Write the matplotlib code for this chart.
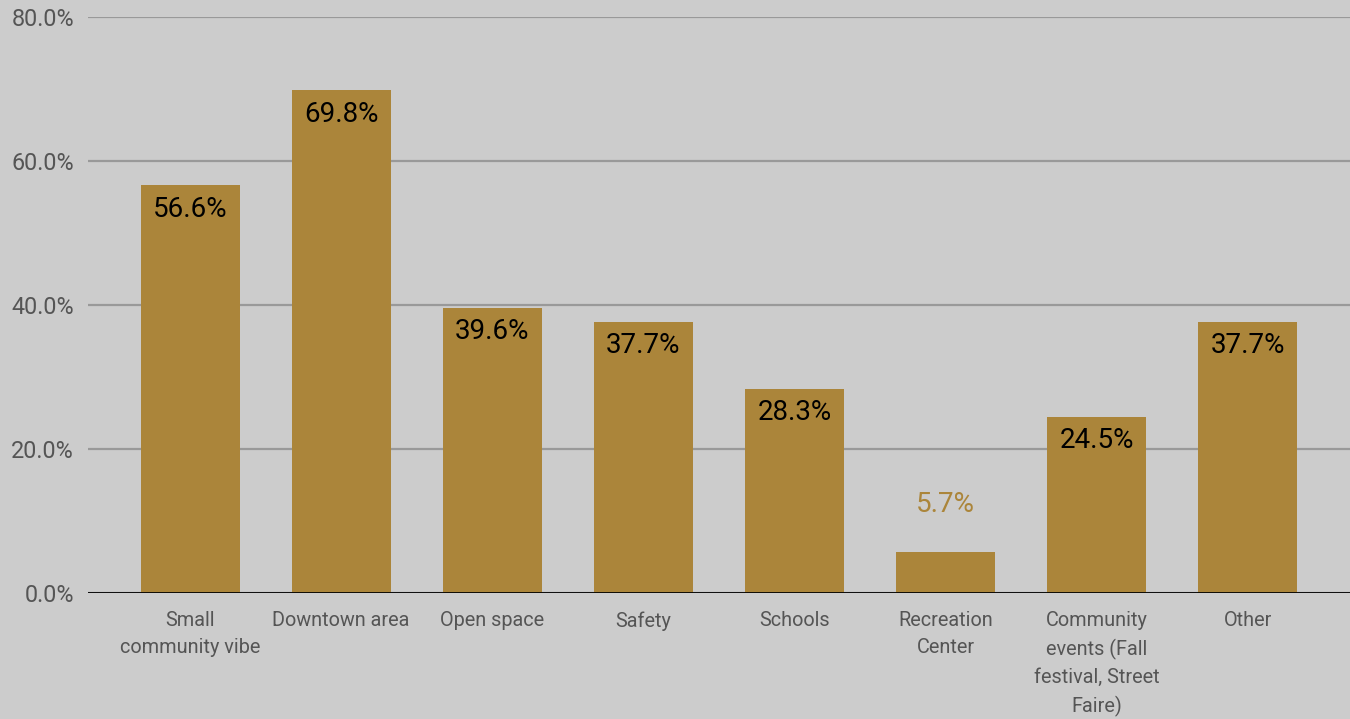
import matplotlib
matplotlib.use('Agg')
import matplotlib.pyplot as plt
from matplotlib.ticker import FuncFormatter

plt.rcParams['font.family'] = ['Roboto', 'DejaVu Sans']

categories = ['Small\ncommunity vibe', 'Downtown area', 'Open space', 'Safety',
              'Schools', 'Recreation\nCenter',
              'Community\nevents (Fall\nfestival, Street\nFaire)', 'Other']
values = [56.6, 69.8, 39.6, 37.7, 28.3, 5.7, 24.5, 37.7]

bg = '#cccccc'
bar_color = '#ab853a'

fig = plt.figure(figsize=(13.5, 7.19), dpi=100, facecolor=bg)
ax = fig.add_axes([88 / 1350, 126 / 719, 1 - 88 / 1350, (593 - 17) / 719])
ax.set_facecolor(bg)

x = list(range(len(values)))
bars = ax.bar(x, values, width=0.655, color=bar_color, zorder=3)

ax.set_xlim(-0.675, len(values) - 1 + 0.675)
ax.set_ylim(0, 80)
ax.set_yticks([0, 20, 40, 60, 80])
ax.yaxis.set_major_formatter(FuncFormatter(lambda v, p: f'{v:.1f}%'))
ax.grid(axis='y', color='#999999', linewidth=1.6, zorder=0)
ax.axhline(0, color='black', linewidth=2, zorder=4)

ax.set_xticks(x)
ax.set_xticklabels(categories, fontsize=14.3, color='#555555', linespacing=1.55)
ax.tick_params(axis='y', labelsize=16.8, colors='#555555', length=0, pad=10)
ax.tick_params(axis='x', length=0, pad=13)
for s in ax.spines.values():
    s.set_visible(False)

for b, v in zip(bars, values):
    cx = b.get_x() + b.get_width() / 2
    if v > 10:
        ax.annotate(f'{v:.1f}%', (cx, v), xytext=(0, -17), textcoords='offset points',
                    ha='center', va='center', fontsize=20, color='black', zorder=5)
    else:
        ax.annotate(f'{v:.1f}%', (cx, v), xytext=(0, 34), textcoords='offset points',
                    ha='center', va='center', fontsize=20, color=bar_color, zorder=5)

fig.savefig('out.png', dpi=100, facecolor=bg)
